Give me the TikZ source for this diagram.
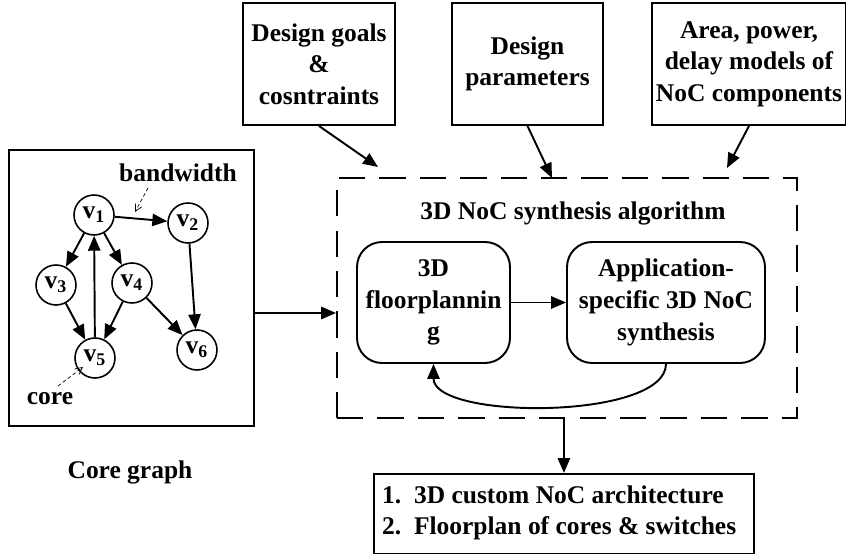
\documentclass[tikz,border=0pt]{standalone}
\usepackage{fontspec}
\setmainfont{Liberation Serif}
\usepackage{tikz}
\usetikzlibrary{arrows.meta,calc,positioning}

\tikzset{
  arr/.style={line width=1.1pt,-{Triangle[length=8.5pt,width=7pt]}},
  thinarr/.style={thin,dashed,dash pattern=on 2pt off 1.5pt,-{Straight Barb[length=4pt,width=4pt]}},
  vtx/.style={draw,circle,line width=0.9pt,minimum size=0.8cm,inner sep=0pt},
  inbox/.style={draw,line width=1.1pt,align=center,inner sep=2pt},
  stepbox/.style={draw,line width=1.1pt,rounded corners=0.5cm,align=center,inner sep=2pt}
}

\begin{document}
\begin{tikzpicture}[x=0.02cm,y=-0.02cm,font=\fontsize{14.5}{18}\selectfont\bfseries]
\useasboundingbox (0,0) rectangle (846,554);

\node[draw,line width=1.1pt,minimum width=4.9cm,minimum height=5.52cm] (cg) at (131.5,288) {};
\node at (130,472) {Core graph};

\foreach \n/\x/\y in {1/94/215, 2/188/223, 3/56/285, 4/132/283, 5/95/358, 6/197/350}
  \node[vtx] (v\n) at (\x,\y) {v\textsubscript{\n}};
\foreach \a/\b in {1/2, 1/3, 1/4, 5/1, 3/5, 4/5, 4/6, 2/6}
  \draw[arr] (v\a) -- (v\b);

\node (bw) at (178,173) {bandwidth};
\coordinate (bwtip) at (135,212);
\draw[thinarr] (148,188) -- (bwtip);
\node (cr) at (50,399) {core};
\coordinate (crtip) at (83,367);
\draw[thinarr] (58,386) -- (crtip);

\node[inbox,minimum width=3.04cm,minimum height=2.44cm] (g1) at (319,64) {Design goals\\\&\\cosntraints};
\node[inbox,minimum width=3.02cm,minimum height=2.44cm] (g2) at (527.5,64) {Design\\parameters};
\node[inbox,minimum width=3.84cm,minimum height=2.44cm] (g3) at (749,64) {Area, power,\\delay models of\\NoC components};

\node[draw,line width=1.1pt,dash pattern=on 15pt off 8pt,minimum width=9.2cm,minimum height=4.8cm] (alg) at (567,298) {};
\node at (573,213) {3D NoC synthesis algorithm};

\node[stepbox,minimum width=3.06cm,minimum height=2.42cm] (floor) at (433.5,302.5) {3D\\floorplannin\\g};
\node[stepbox,minimum width=3.96cm,minimum height=2.42cm] (app) at (666,302.5) {Application-\\specific 3D NoC\\synthesis};

\coordinate (e1) at (378,167);
\coordinate (e2) at (552,178);
\coordinate (e3) at (727,168);
\draw[arr] (g1.south) -- (e1);
\draw[arr] (g2.south) -- (e2);
\draw[arr] (g3.south) -- (e3);

\draw[arr] (cg.east |- 0,313) -- (alg.west |- 0,313);
\draw[arr] (floor) -- (app);
\draw[arr] (app.south) to[out=-90,in=-90,looseness=0.62] (floor.south);

\node[draw,line width=1.1pt,minimum width=7.6cm,minimum height=1.6cm,align=left,anchor=north west,inner sep=0pt] (out) at (373,473) {};
\node[anchor=west,align=left] at (376,513) {1.\ \ 3D custom NoC architecture\\2.\ \ Floorplan of cores \& switches};
\draw[arr] (alg.south -| out.north) -- (out.north);
\end{tikzpicture}
\end{document}
